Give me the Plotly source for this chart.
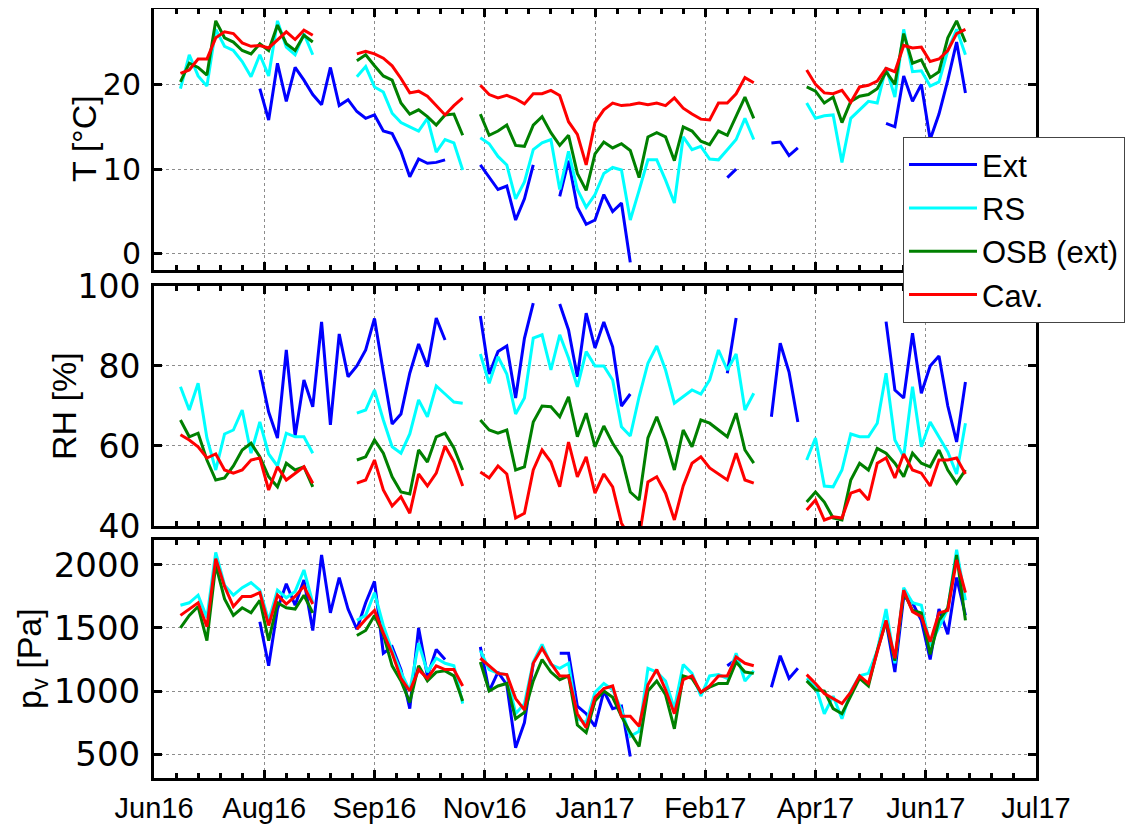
import pandas as pd
import plotly.graph_objects as go
from plotly.subplots import make_subplots

N = None

# sampling dates (every 4 days, 2 Jul 2016 .. 23 Jun 2017)
dates = pd.date_range("2016-07-02", periods=90, freq="4D")

# temperature [°C]
t_ext = [N, N, N, N, N, N, N, N, N, 19.5,
         15.8, 22.5, 18.0, 22.0, 20.5, 18.8, 17.6, 22.0, 17.5, 18.2,
         16.8, 16.0, 16.4, 14.5, 14.2, 12.1, 9.1, 11.2, 10.7, 10.8,
         11.1, N, N, N, 10.5, 9.0, 7.6, 8.0, 4.0, 6.5,
         10.5, N, N, 6.8, 11.0, 5.5, 3.5, 4.0, 7.0, 5.0,
         6.0, -1.0, N, N, N, N, N, N, N, N,
         N, N, 9.0, 10.0, N, N, N, 13.1, 13.2, 11.6,
         12.5, N, N, N, N, N, N, N, N, N,
         15.4, 15.0, 21.0, 18.0, 20.0, 13.5, 16.5, 20.5, 25.0, 19.0]
t_rs = [19.5, 23.5, 21.0, 19.8, 26.5, 24.5, 24.0, 22.7, 20.9, 23.5,
        21.0, 27.5, 24.4, 23.5, 26.0, 23.5, N, N, N, N,
        20.9, 22.1, 19.7, 19.1, 16.6, 15.5, 15.0, 14.5, 16.0, 12.0,
        13.5, 13.1, 9.9, N, 13.7, 13.0, 11.5, 10.5, 6.5, 8.5,
        12.3, 13.1, 13.5, 7.6, 12.1, 7.6, 5.5, 7.0, 9.5, 10.2,
        9.9, 4.0, 7.5, 11.1, 11.1, 8.7, 6.0, 13.8, 12.3, 12.7,
        11.2, 11.1, 12.3, 13.5, 16.0, 13.5, N, N, N, N,
        N, 17.8, 16.0, 16.3, 16.4, 10.8, 16.0, 17.0, 18.0, 17.8,
        22.0, 18.5, 26.5, 21.5, 21.6, 19.8, 20.3, 24.0, 26.5, 23.5]
t_osb = [20.3, 22.5, 22.0, 21.1, 27.5, 25.5, 25.0, 24.0, 23.6, 24.8,
         24.0, 27.0, 24.8, 24.0, 25.8, 25.0, N, N, N, N,
         22.8, 23.5, 22.2, 21.0, 20.5, 17.8, 16.5, 17.0, 16.2, 15.2,
         16.4, 16.5, 14.0, N, 16.5, 14.0, 14.5, 15.2, 12.8, 12.7,
         15.2, 16.2, 14.3, 12.8, 14.0, 9.5, 7.5, 11.8, 13.2, 12.5,
         13.0, 12.2, 9.0, 13.8, 14.3, 13.8, 11.0, 15.0, 14.5, 13.3,
         12.9, 14.5, 14.0, 16.3, 18.5, 16.0, N, N, N, N,
         N, 19.7, 19.2, 17.8, 18.5, 15.5, 18.0, 18.6, 18.8, 19.5,
         21.5, 20.0, 26.0, 22.5, 22.9, 20.8, 21.5, 25.5, 27.5, 25.0]
t_cav = [21.3, 21.7, 23.0, 23.0, 25.5, 26.2, 26.0, 24.9, 24.5, 24.6,
         24.3, 25.3, 26.2, 25.3, 26.4, 25.8, N, N, N, N,
         23.6, 23.9, 23.6, 23.1, 22.2, 20.7, 19.0, 19.2, 18.6, 17.5,
         16.4, 17.5, 18.4, N, 19.9, 18.8, 18.4, 18.7, 18.3, 17.7,
         18.9, 18.9, 19.3, 18.7, 15.6, 14.1, 10.5, 15.5, 17.0, 17.8,
         17.5, 17.6, 17.8, 17.6, 17.8, 17.5, 18.4, 17.2, 16.5, 15.9,
         15.8, 17.8, 17.8, 18.9, 20.8, 20.2, N, N, N, N,
         N, 21.7, 20.0, 19.0, 18.9, 19.3, 17.9, 19.7, 19.9, 20.4,
         21.9, 21.5, 24.6, 24.3, 24.4, 22.7, 23.0, 24.0, 26.0, 26.5]

# relative humidity [%]
rh_ext = [N, N, N, N, N, N, N, N, N, 79.0,
          68.5, 62.0, 84.0, 62.5, 76.5, 69.8, 91.0, 65.3, 88.0, 77.3,
          80.0, 84.0, 91.9, 78.5, 65.5, 68.0, 78.2, 85.5, 79.8, 92.0,
          86.5, N, N, N, 92.5, 78.0, 83.6, 85.0, 72.0, 86.9,
          95.7, N, N, 95.5, 89.0, 77.3, 93.2, 84.5, 91.0, 84.8,
          70.0, 73.0, N, N, N, N, N, N, N, N,
          N, N, 78.2, 92.0, N, N, N, 67.3, 85.7, 78.5,
          66.0, N, N, N, N, N, N, N, N, N,
          91.1, 74.0, 72.0, 88.2, 73.2, 80.0, 82.5, 70.0, 61.0, 76.0]
rh_rs = [74.8, 69.0, 75.7, 62.0, 54.0, 63.0, 64.0, 69.0, 58.2, 66.0,
         58.0, 55.0, 63.2, 62.3, 62.3, 58.2, N, N, N, N,
         68.2, 69.0, 74.0, 66.5, 59.8, 58.2, 63.0, 71.5, 67.3, 75.0,
         73.0, 71.0, 70.7, N, 83.0, 75.7, 82.3, 78.0, 68.0, 72.0,
         87.0, 87.8, 79.0, 87.8, 82.0, 74.8, 83.6, 80.0, 80.0, 76.5,
         64.8, 62.5, 72.3, 80.7, 85.0, 79.0, 70.7, 72.3, 74.0, 73.0,
         76.5, 84.0, 79.0, 83.0, 69.0, 73.2, N, N, N, N,
         N, 56.5, 62.0, 50.0, 49.8, 54.0, 63.0, 62.3, 62.3, 65.7,
         78.2, 61.5, 57.3, 74.8, 59.8, 66.0, 62.3, 58.5, 53.0, 65.7]
rh_osb = [66.5, 62.3, 63.2, 56.5, 51.5, 52.0, 55.0, 59.0, 60.7, 57.3,
          52.3, 49.8, 55.7, 54.0, 54.8, 49.8, N, N, N, N,
          56.5, 57.3, 61.5, 58.2, 52.3, 48.5, 48.0, 59.0, 56.0, 62.3,
          63.2, 59.5, 54.0, N, 66.5, 64.0, 63.2, 64.0, 54.0, 54.8,
          66.0, 70.0, 69.8, 67.3, 72.3, 62.3, 68.2, 59.8, 65.0, 60.7,
          57.3, 48.5, 46.5, 62.0, 67.3, 61.5, 54.0, 64.0, 59.8, 66.5,
          65.7, 64.0, 62.3, 68.2, 59.0, 55.7, N, N, N, N,
          N, 46.0, 48.5, 46.0, 42.0, 41.5, 51.5, 55.7, 54.0, 59.4,
          58.2, 55.7, 52.3, 58.2, 55.7, 54.8, 59.0, 54.0, 50.7, 54.0]
rh_cav = [62.8, 61.5, 59.8, 57.0, 58.0, 54.0, 53.2, 54.0, 56.5, 57.0,
          49.0, 54.8, 51.5, 53.2, 54.8, 50.7, N, N, N, N,
          50.7, 51.5, 56.5, 49.0, 45.0, 47.3, 43.2, 53.0, 50.0, 53.2,
          60.0, 56.0, 50.0, N, 53.5, 52.0, 55.0, 53.0, 42.0, 43.2,
          54.0, 59.0, 56.0, 49.8, 61.0, 52.3, 57.3, 48.2, 53.0, 49.8,
          40.7, 37.0, 37.0, 51.0, 52.3, 48.2, 41.5, 50.0, 55.7, 57.3,
          54.5, 53.0, 51.5, 58.2, 51.5, 50.7, N, N, N, N,
          N, 44.0, 46.5, 41.5, 42.3, 42.0, 48.2, 49.0, 46.5, 55.7,
          57.0, 52.0, 58.0, 54.0, 53.2, 50.0, 56.5, 56.5, 57.0, 53.0]

# vapour pressure [Pa]
pv_ext = [N, N, N, N, N, N, N, N, N, 1550,
          1200, 1650, 1850, 1680, 1880, 1480, 2080, 1620, 1900, 1650,
          1490, 1700, 1870, 1300, 1350, 1170, 860, 1500, 1120, 1330,
          1250, N, N, N, 1350, 1000, 1150, 1050, 550, 750,
          1220, N, N, 1300, 1300, 880, 820, 720, 1000, 860,
          880, 480, N, N, N, N, N, N, N, N,
          N, N, 1200, 1250, N, N, N, 1030, 1280, 1100,
          1180, N, N, N, N, N, N, N, N, N,
          1550, 1150, 1750, 1700, 1560, 1250, 1650, 1450, 1900, 1600]
pv_rs = [1680, 1700, 1760, 1580, 2100, 1840, 1760, 1820, 1860, 1800,
         1560, 1800, 1740, 1790, 1960, 1700, N, N, N, N,
         1560, 1600, 1780, 1520, 1320, 1150, 1000, 1380, 1150, 1260,
         1220, 1200, 900, N, 1320, 1170, 1140, 1130, 820, 900,
         1230, 1370, 1210, 1180, 1220, 780, 750, 990, 1060, 1010,
         850, 640, 680, 1180, 1150, 1080, 860, 1210, 1140, 960,
         1120, 1130, 1100, 1300, 1080, 1160, N, N, N, N,
         N, 1100, 1040, 820, 960, 780, 1000, 1120, 1140, 1320,
         1650, 1220, 1820, 1700, 1680, 1360, 1500, 1650, 2120, 1720]
pv_osb = [1500, 1600, 1670, 1400, 2000, 1730, 1600, 1660, 1620, 1720,
          1400, 1700, 1660, 1650, 1760, 1620, N, N, N, N,
          1440, 1480, 1600, 1450, 1200, 1080, 910, 1200, 1080, 1150,
          1160, 1120, 920, N, 1230, 1000, 1040, 1060, 780, 830,
          1080, 1250, 1150, 1090, 1120, 730, 670, 920, 1000, 950,
          800, 670, 560, 1000, 1080, 970, 700, 1120, 1100, 990,
          1030, 1060, 1060, 1230, 1150, 1140, N, N, N, N,
          N, 1080, 1010, 1000, 860, 820, 960, 1100, 1040, 1320,
          1550, 1240, 1780, 1640, 1620, 1290, 1560, 1660, 2080, 1560]
pv_cav = [1600, 1650, 1700, 1510, 2050, 1830, 1670, 1750, 1750, 1780,
          1520, 1760, 1690, 1750, 1830, 1690, N, N, N, N,
          1490, 1570, 1640, 1460, 1300, 1100, 1000, 1170, 1100, 1200,
          1170, 1170, 1040, N, 1260, 1200, 1140, 1130, 940, 850,
          1220, 1340, 1220, 1120, 1120, 820, 710, 950, 1020, 1040,
          800, 800, 720, 1050, 1170, 1010, 820, 1090, 1120, 990,
          1040, 1120, 1120, 1270, 1220, 1200, N, N, N, N,
          N, 1130, 1060, 980, 940, 900, 990, 1120, 1060, 1300,
          1560, 1260, 1800, 1630, 1590, 1390, 1620, 1640, 2040, 1780]

names = ["Ext", "RS", "OSB (ext)", "Cav."]
colors = ["#0000ff", "#00ffff", "#008000", "#ff0000"]
panels = [
    [t_ext, t_rs, t_osb, t_cav],
    [rh_ext, rh_rs, rh_osb, rh_cav],
    [pv_ext, pv_rs, pv_osb, pv_cav],
]

tick_dates = ["2016-06-20", "2016-08-09", "2016-09-28", "2016-11-17", "2017-01-06",
              "2017-02-25", "2017-04-16", "2017-06-05", "2017-07-25"]
tick_text = ["Jun16", "Aug16", "Sep16", "Nov16", "Jan17", "Feb17", "Apr17", "Jun17", "Jul17"]

fig = make_subplots(rows=3, cols=1, shared_xaxes=True)

for row, series in enumerate(panels, start=1):
    for name, color, vals in zip(names, colors, series):
        fig.add_trace(
            go.Scatter(
                x=dates, y=vals, mode="lines", name=name,
                line=dict(color=color, width=3),
                legendgroup=name, showlegend=(row == 1),
                connectgaps=False,
            ),
            row=row, col=1,
        )

fig.update_xaxes(
    range=["2016-06-20", "2017-07-25"], automargin=False,
    tickmode="array", tickvals=tick_dates, ticktext=tick_text,
    showline=True, linewidth=3, linecolor="black", mirror="ticks",
    ticks="inside", ticklen=8, tickwidth=2.5, tickcolor="black",
    showgrid=True, gridcolor="#8c8c8c", griddash="dot", gridwidth=1.3,
    minor=dict(ticks="inside", ticklen=5, tickwidth=2.5, tickcolor="black",
               tickmode="linear", tick0="2016-06-20", dtick=10 * 86400000, showgrid=False),
    zeroline=False,
    tickfont=dict(family="Liberation Sans Narrow, Liberation Sans, Arial", size=29, color="black"),
)
fig.update_xaxes(showticklabels=False, row=1, col=1)
fig.update_xaxes(showticklabels=False, row=2, col=1)
fig.update_xaxes(ticklabelstandoff=2, row=3, col=1)

tick_family = "DejaVu Sans, Liberation Sans, sans-serif"
fig.update_yaxes(
    automargin=False,
    showline=True, linewidth=3, linecolor="black", mirror="ticks",
    ticks="inside", ticklen=8, tickwidth=2.5, tickcolor="black",
    showgrid=True, gridcolor="#8c8c8c", griddash="dot", gridwidth=1.3,
    zeroline=False, ticklabelstandoff=4, tickmode="array",
)
fig.update_yaxes(range=[-1.9, 28.9], tickvals=[0, 10, 20],
                 tickfont=dict(family=tick_family, size=30, color="black"), row=1, col=1)
fig.update_yaxes(range=[40, 100], tickvals=[40, 60, 80, 100],
                 tickfont=dict(family=tick_family, size=33, color="black"), row=2, col=1)
fig.update_yaxes(range=[310, 2198], tickvals=[500, 1000, 1500, 2000],
                 tickfont=dict(family=tick_family, size=34, color="black"), row=3, col=1)

# the page body adds an 8 px offset, so the figure is 8 px smaller than the window
fig.update_layout(
    width=1130, height=818,
    margin=dict(l=146, r=102, t=1, b=48, autoexpand=False),
    paper_bgcolor="white", plot_bgcolor="white",
    yaxis=dict(domain=[0.6606, 1.0]),
    yaxis2=dict(domain=[0.3277, 0.6398]),
    yaxis3=dict(domain=[0.0, 0.3095]),
    showlegend=True,
    legend=dict(
        x=0.8492, y=0.8336, xanchor="left", yanchor="top",
        bgcolor="white", bordercolor="#444444", borderwidth=1,
        font=dict(family="Liberation Sans, Arial", size=31, color="black"),
        itemwidth=68, tracegroupgap=0,
    ),
    font=dict(family="Liberation Sans, Arial", color="black"),
)

# axis titles (rotated, left of the tick labels)
ylabels = [("T [°C]", 76, 0.831), ("RH [%]", 56, 0.4837), ("p<sub>v</sub> [Pa]", 23, 0.1547)]
for text, xpix, ypaper in ylabels:
    fig.add_annotation(
        text=text, xref="paper", yref="paper",
        x=(xpix - 146) / 882, y=ypaper, xanchor="center", yanchor="middle",
        textangle=-90, showarrow=False,
        font=dict(family="Liberation Sans, Arial", size=34, color="black"),
    )

fig.write_html("out.html")
